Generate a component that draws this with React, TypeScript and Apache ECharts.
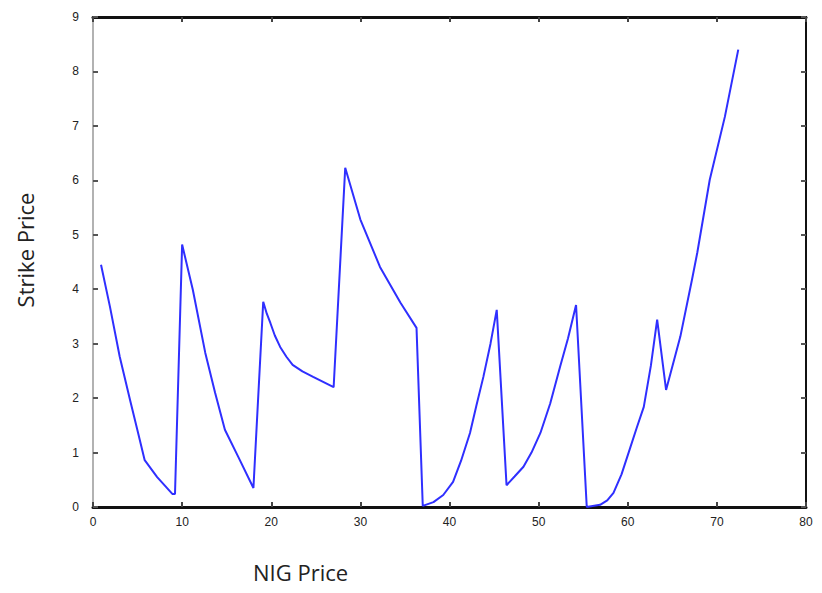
import React, { useEffect, useRef } from "react";
import * as echarts from "echarts";

const nigPrice = [
  0.9, 1.9, 3.0, 4.15, 5.0, 5.8, 7.2, 8.9, 9.2, 10.0,
  11.2, 12.6, 13.7, 14.8, 16.3, 18.0, 19.1,
  19.5, 19.9, 20.4, 21.0, 21.7, 22.4, 23.5, 24.7, 27.0, 28.3,
  30.0, 32.2, 34.5, 36.3, 37.0,
  38.2, 39.3, 40.4, 41.3, 42.3, 43.0, 43.8, 44.6, 45.3, 46.4,
  47.3, 48.3, 49.2, 50.2, 51.3, 52.4, 53.3, 54.2, 55.4,
  56.9, 57.7, 58.4, 59.3, 60.3, 61.0, 61.8, 62.6, 63.3, 64.3,
  65.9, 67.2, 67.8, 69.2, 70.9, 72.4,
];
const strikePrice = [
  4.45, 3.68, 2.76, 1.97, 1.4, 0.86, 0.55, 0.24, 0.24, 4.82,
  3.99, 2.83, 2.1, 1.42, 0.92, 0.35, 3.77,
  3.55, 3.38, 3.15, 2.94, 2.76, 2.61, 2.49, 2.39, 2.2, 6.23,
  5.28, 4.41, 3.75, 3.29, 0.02,
  0.09, 0.22, 0.46, 0.85, 1.36, 1.85, 2.39, 3.0, 3.62, 0.4,
  0.56, 0.74, 1.0, 1.36, 1.9, 2.57, 3.1, 3.71, 0.0,
  0.04, 0.12, 0.26, 0.6, 1.1, 1.45, 1.84, 2.6, 3.44, 2.15,
  3.13, 4.17, 4.67, 6.01, 7.17, 8.4,
];
const xTicks = [0, 10, 20, 30, 40, 50, 60, 70, 80];
const yTicks = [0, 1, 2, 3, 4, 5, 6, 7, 8, 9];

const xTitle = "NIG Price";
const yTitle = "Strike Price";

export default function App() {
  const ref = useRef<HTMLDivElement>(null);
  useEffect(() => {
    if (!ref.current) return;
    const chart = echarts.init(ref.current, undefined, { renderer: "svg" });
    const data = nigPrice.map((x, i) => [x, strikePrice[i]]);
    const tickLabel = {
      color: "#222",
      fontFamily: "Liberation Sans, Arial, sans-serif",
      fontSize: 12,
    };
    const xBase = {
      type: "value",
      min: xTicks[0],
      max: xTicks[xTicks.length - 1],
      interval: 10,
      splitLine: { show: false },
    };
    const yBase = {
      type: "value",
      min: yTicks[0],
      max: yTicks[yTicks.length - 1],
      interval: 1,
      splitLine: { show: false },
    };
    chart.setOption({
      animation: false,
      backgroundColor: "#fff",
      grid: { left: 93, right: 16, top: 17, bottom: 86, containLabel: false },
      xAxis: [
        {
          ...xBase,
          position: "bottom",
          axisLine: { show: true, onZero: false, lineStyle: { color: "#111", width: 3 } },
          axisTick: { show: true, inside: true, length: 5, lineStyle: { color: "#444", width: 2 } },
          axisLabel: { ...tickLabel, margin: 9 },
        },
        {
          ...xBase,
          position: "top",
          axisLine: { show: true, onZero: false, lineStyle: { color: "#111", width: 3 } },
          axisTick: { show: true, inside: true, length: 5, lineStyle: { color: "#444", width: 2 } },
          axisLabel: { show: false },
        },
      ],
      yAxis: [
        {
          ...yBase,
          position: "left",
          axisLine: { show: true, onZero: false, lineStyle: { color: "#999", width: 1.5 } },
          axisTick: { show: true, inside: true, length: 5, lineStyle: { color: "#555", width: 2 } },
          axisLabel: { ...tickLabel, margin: 14 },
        },
        {
          ...yBase,
          position: "right",
          axisLine: { show: true, onZero: false, lineStyle: { color: "#111", width: 2 } },
          axisTick: { show: true, inside: true, length: 5, lineStyle: { color: "#555", width: 2 } },
          axisLabel: { show: false },
        },
      ],
      series: [
        {
          type: "line",
          data,
          xAxisIndex: 0,
          yAxisIndex: 0,
          showSymbol: false,
          symbol: "none",
          lineStyle: { color: "#2f2fff", width: 2 },
          z: 1,
        },
      ],
      graphic: [
        {
          type: "text",
          left: 253,
          top: 561,
          style: {
            text: xTitle,
            fontSize: 22,
            fontFamily: "Open Sans, Liberation Sans, sans-serif",
            fill: "#222",
          },
        },
        {
          type: "text",
          x: 14,
          y: 250,
          rotation: Math.PI / 2,
          style: {
            text: yTitle,
            fontSize: 22,
            fontFamily: "Open Sans, Liberation Sans, sans-serif",
            fill: "#222",
            align: "center",
            verticalAlign: "top",
          },
        },
      ],
    });
    return () => chart.dispose();
  }, []);
  return <div ref={ref} style={{ width: 822, height: 593, position: "absolute", left: 0, top: 0 }} />;
}
